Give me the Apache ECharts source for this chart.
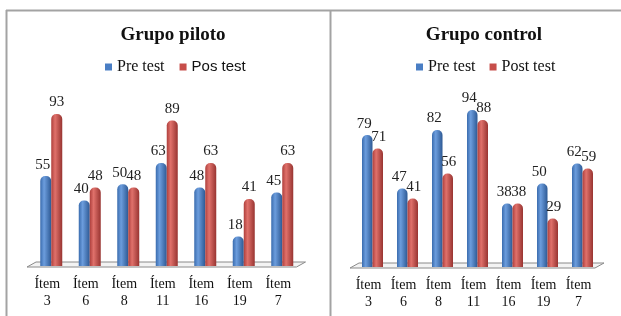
<!DOCTYPE html>
<html>
<head>
<meta charset="utf-8">
<script src="https://cdn.jsdelivr.net/npm/echarts@6/dist/echarts.min.js"></script>
<style>
    html, body { margin: 0; padding: 0; background: #fff; }
    #chart { width: 621px; height: 316px; }
</style>
</head>
<body>
<div id="chart"></div>
<script>
/* ===================== 数据 ===================== */
var categories = ['Ítem\n3', 'Ítem\n6', 'Ítem\n8', 'Ítem\n11', 'Ítem\n16', 'Ítem\n19', 'Ítem\n7'];
var pilotoPre = [55, 40, 50, 63, 48, 18, 45];
var pilotoPos = [93, 48, 48, 89, 63, 41, 63];
var controlPre = [79, 47, 82, 94, 38, 50, 62];
var controlPost = [71, 41, 56, 88, 38, 29, 59];
/* ===================== end ===================== */

var serif = "'Liberation Serif', 'DejaVu Serif', serif";

// 网格位置
var grids = [
    { left: 32, top: 102.5, width: 269.5, height: 163.5 },
    { left: 355, top: 100, width: 245, height: 167 }
];

// 圆柱效果的渐变
function cylinder(c0, c1, c2) {
    return {
        type: 'linear', x: 0, y: 0, x2: 1, y2: 0,
        colorStops: [
            { offset: 0, color: c0 },
            { offset: 0.35, color: c1 },
            { offset: 1, color: c2 }
        ]
    };
}
var blue = cylinder('#3a6cae', '#6c9ddd', '#2d5994');
var red = cylinder('#ae3f3c', '#e0716b', '#983431');
var blueFlat = '#4a7ec4';
var redFlat = '#c74e4a';

function barSeries(name, data, idx, color, labelOffset) {
    return {
        name: name,
        type: 'bar',
        xAxisIndex: idx,
        yAxisIndex: idx,
        data: data,
        barWidth: idx === 0 ? 11 : 10.5,
        barGap: '0%',
        z: 3,
        itemStyle: { color: color, borderRadius: [5, 5, 0, 0] },
        label: {
            show: true,
            position: 'top',
            distance: 4,
            offset: labelOffset,
            fontFamily: serif,
            fontSize: 15,
            color: '#222'
        }
    };
}

// 3D 地板
function floor(g) {
    var L = g.left, R = g.left + g.width, B = g.top + g.height;
    return {
        type: 'polygon',
        z: 0,
        shape: { points: [[L - 5, B + 1], [R - 5, B + 1], [R + 4, B - 4], [L + 4, B - 4]] },
        style: { fill: '#f3f3f3', stroke: '#8a8a8a', lineWidth: 1 }
    };
}

function xAxis(idx) {
    return {
        type: 'category',
        gridIndex: idx,
        data: categories,
        axisLine: { show: false },
        axisTick: { show: false },
        axisLabel: {
            margin: 10,
            fontFamily: serif,
            fontSize: 14,
            lineHeight: 17,
            color: '#111',
            padding: [0, 8, 0, 0]
        }
    };
}

function yAxis(idx) {
    return {
        type: 'value',
        gridIndex: idx,
        min: 0,
        max: 100,
        show: false,
        splitLine: { show: false }
    };
}

var titleStyle = { fontFamily: serif, fontWeight: 'bold', fontSize: 19, color: '#111' };

var option = {
    animation: false,
    backgroundColor: '#fff',
    title: [
        { text: 'Grupo piloto', left: 168, top: 21, textAlign: 'center', textStyle: titleStyle },
        { text: 'Grupo control', left: 479, top: 21, textAlign: 'center', textStyle: titleStyle }
    ],
    legend: [
        {
            data: [
                { name: 'Pre test', itemStyle: { color: blueFlat } },
                { name: 'Pos test', itemStyle: { color: redFlat } }
            ],
            left: 100, top: 54,
            itemWidth: 7, itemHeight: 7, itemGap: 15,
            icon: 'rect',
            formatter: function (name) {
                return name === 'Pos test' ? '{s|' + name + '}' : name;
            },
            textStyle: {
                fontFamily: serif, fontSize: 16, color: '#111',
                rich: { s: { fontFamily: "'Liberation Sans Narrow', 'Liberation Sans', sans-serif", fontSize: 15, color: '#111' } }
            }
        },
        {
            data: [
                { name: 'Pre test', itemStyle: { color: blueFlat } },
                { name: 'Post test', itemStyle: { color: redFlat } }
            ],
            left: 411, top: 54,
            itemWidth: 7, itemHeight: 7, itemGap: 14,
            icon: 'rect',
            textStyle: { fontFamily: serif, fontSize: 16, color: '#111' }
        }
    ],
    grid: grids,
    xAxis: [xAxis(0), xAxis(1)],
    yAxis: [yAxis(0), yAxis(1)],
    series: [
        barSeries('Pre test', pilotoPre, 0, blue, [-3, 0]),
        barSeries('Pos test', pilotoPos, 0, red, [0, 0]),
        barSeries('Pre test', controlPre, 1, blue, [-3, 0]),
        barSeries('Post test', controlPost, 1, red, [1, 0])
    ],
    graphic: [
        // 外框
        { type: 'line', z: 0, shape: { x1: 6, y1: 10.5, x2: 621, y2: 10.5 }, style: { stroke: '#a3a3a3', lineWidth: 2 } },
        { type: 'line', z: 0, shape: { x1: 6.5, y1: 10, x2: 6.5, y2: 316 }, style: { stroke: '#a3a3a3', lineWidth: 2 } },
        { type: 'line', z: 0, shape: { x1: 330.5, y1: 10, x2: 330.5, y2: 316 }, style: { stroke: '#a3a3a3', lineWidth: 2 } },
        floor(grids[0]),
        floor(grids[1])
    ]
};

var chart = echarts.init(document.getElementById('chart'));
chart.setOption(option);
</script>
</body>
</html>
